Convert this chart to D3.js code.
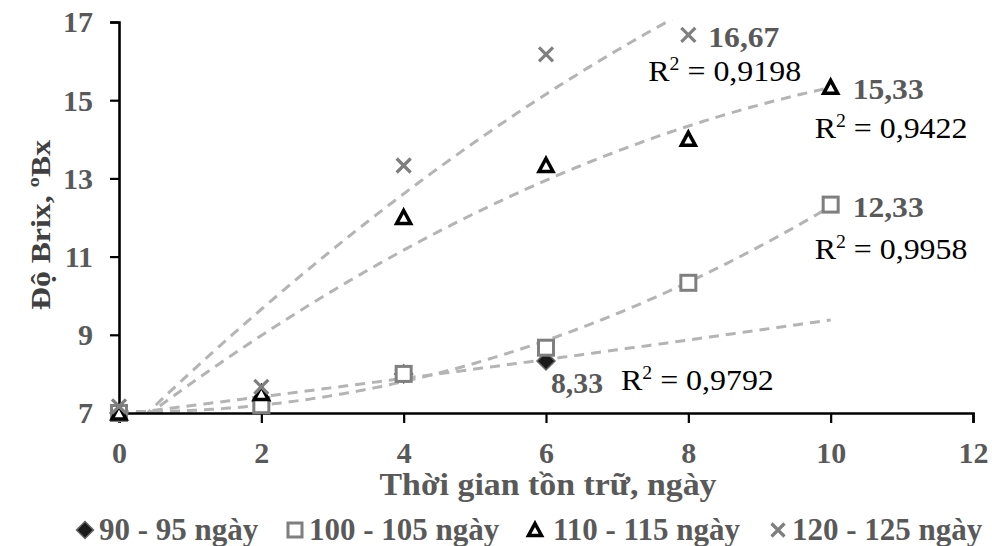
<!DOCTYPE html>
<html>
<head>
<meta charset="utf-8">
<script src="https://cdn.jsdelivr.net/npm/d3@7"></script>
<style>
  body { margin: 0; background: #fff; }
  text { font-family: "Liberation Serif", "Times New Roman", serif; }
</style>
</head>
<body>
<div id="main"></div>
<script>
const days = [0, 2, 4, 6, 8, 10];
const seriesNames = ['90 - 95 ngày', '100 - 105 ngày', '110 - 115 ngày', '120 - 125 ngày'];
const brix90 = [7, 7.3, 8, 8.33];
const brix100 = [7, 7.2, 8, 8.67, 10.33, 12.33];
const brix110 = [7, 7.5, 12, 13.33, 14, 15.33];
const brix120 = [7.17, 7.67, 13.33, 16.17, 16.67];
const endLabels = ['8,33', '12,33', '15,33', '16,67'];
const r2Labels = ['0,9792', '0,9958', '0,9422', '0,9198'];
const trendEnd = [10, 10, 10, 10];
const yTicks = [7, 9, 11, 13, 15, 17];
const xTicks = [0, 2, 4, 6, 8, 10, 12];

const width = 992, height = 546;
const margin = {left: 119, right: 19, top: 22, bottom: 133};

const svg = d3.select('#main').append('svg')
    .attr('width', width)
    .attr('height', height);

const x = d3.scaleLinear().domain([0, 12]).range([margin.left, width - margin.right]);
const y = d3.scaleLinear().domain([7, 17]).range([height - margin.bottom, margin.top]);

const series = [brix90, brix100, brix110, brix120].map((vals, i) => ({
  name: seriesNames[i],
  points: vals.map((v, j) => [days[j], v]),
  label: endLabels[i],
  r2: r2Labels[i],
  end: trendEnd[i],
}));

// least squares polynomial, order 2 (Excel style trendline)
function polyFit(pts) {
  let s = [0, 0, 0, 0, 0], t = [0, 0, 0];
  pts.forEach(([px, py]) => {
    for (let k = 0; k < 5; k++) s[k] += Math.pow(px, k);
    for (let k = 0; k < 3; k++) t[k] += py * Math.pow(px, k);
  });
  const A = [[s[0], s[1], s[2], t[0]], [s[1], s[2], s[3], t[1]], [s[2], s[3], s[4], t[2]]];
  for (let i = 0; i < 3; i++) {
    for (let j = i + 1; j < 3; j++) {
      const f = A[j][i] / A[i][i];
      for (let k = i; k < 4; k++) A[j][k] -= f * A[i][k];
    }
  }
  const c = [0, 0, 0];
  for (let i = 2; i >= 0; i--) {
    let sum = A[i][3];
    for (let k = i + 1; k < 3; k++) sum -= A[i][k] * c[k];
    c[i] = sum / A[i][i];
  }
  return xv => c[0] + c[1] * xv + c[2] * xv * xv;
}

// squeeze/stretch a text to a given width
function fitWidth(sel, w) {
  sel.attr('textLength', w).attr('lengthAdjust', 'spacingAndGlyphs');
}

svg.append('clipPath').attr('id', 'plot-clip')
  .append('rect')
    .attr('x', margin.left)
    .attr('y', margin.top - 2)
    .attr('width', width - margin.left - margin.right)
    .attr('height', height - margin.top - margin.bottom + 2);

// trendlines
const line = d3.line().x(d => x(d[0])).y(d => y(d[1]));
svg.append('g')
    .attr('clip-path', 'url(#plot-clip)')
  .selectAll('path')
  .data(series)
  .join('path')
    .attr('d', s => {
      const f = polyFit(s.points);
      return line(d3.range(0, s.end + 0.001, 0.05).map(v => [v, f(v)]));
    })
    .attr('fill', 'none')
    .attr('stroke', '#b4b4b4')
    .attr('stroke-width', 3)
    .attr('stroke-dasharray', '10,7');

// axes
const yAxis = svg.append('g')
    .attr('transform', `translate(${margin.left},0)`)
    .call(d3.axisLeft(y).tickValues(yTicks).tickSize(9).tickPadding(17));
const xAxis = svg.append('g')
    .attr('transform', `translate(0,${height - margin.bottom})`)
    .call(d3.axisBottom(x).tickValues(xTicks).tickSize(10).tickPadding(20));

[yAxis, xAxis].forEach(g => {
  g.select('.domain').attr('stroke', '#000').attr('stroke-width', 2.6);
  g.selectAll('.tick line').attr('stroke', '#000').attr('stroke-width', 2.2);
  g.selectAll('.tick text')
      .attr('fill', '#595959')
      .style('font-size', '30px')
      .style('font-weight', 'bold')
      .style('font-family', '"Liberation Serif", serif');
});
yAxis.selectAll('.tick text').attr('dy', '0.33em');
xAxis.selectAll('.tick text').attr('dy', '0.68em');

// markers
function drawMarker(g, i, size) {
  const h = size / 2;
  if (i === 0) {
    g.append('path')
        .attr('d', `M0,${-h}L${h},0L0,${h}L${-h},0Z`)
        .attr('fill', '#1a1a1a')
        .attr('stroke', '#666')
        .attr('stroke-width', 1.5);
  } else if (i === 1) {
    g.append('rect')
        .attr('x', -h + 1.5).attr('y', -h + 1.5)
        .attr('width', size - 3).attr('height', size - 3)
        .attr('fill', '#fff')
        .attr('stroke', '#7f7f7f')
        .attr('stroke-width', 3);
  } else if (i === 2) {
    g.append('path')
        .attr('d', `M0,${-h + 2}L${h - 2},${h - 3}L${-h + 2},${h - 3}Z`)
        .attr('fill', '#fff')
        .attr('stroke', '#000')
        .attr('stroke-width', 3.5)
        .attr('stroke-linejoin', 'miter');
  } else {
    g.append('path')
        .attr('d', `M${-h + 2},${-h + 2}L${h - 2},${h - 2}M${h - 2},${-h + 2}L${-h + 2},${h - 2}`)
        .attr('stroke', '#7f7f7f')
        .attr('stroke-width', 3.2);
  }
}

series.forEach((s, i) => {
  svg.append('g')
    .selectAll('g')
    .data(s.points)
    .join('g')
      .attr('transform', d => `translate(${x(d[0])},${y(d[1])})`)
      .each(function() { drawMarker(d3.select(this), i, 18); });
});

// value and R² labels, offsets from the last point of each series
const labelOffsets = [
  {vx: 5, vy: 32, rx: 75, ry: 29},
  {vx: 22, vy: 12, rx: -16, ry: 54},
  {vx: 22, vy: 12, rx: -16, ry: 51},
  {vx: 20, vy: 12, rx: -40, ry: 46},
];

series.forEach((s, i) => {
  const last = s.points[s.points.length - 1];
  const o = labelOffsets[i];
  const px = x(last[0]), py = y(last[1]);
  svg.append('text')
      .attr('x', px + o.vx)
      .attr('y', py + o.vy)
      .attr('fill', '#595959')
      .style('font-size', '29px')
      .style('font-weight', 'bold')
      .text(s.label)
      .call(fitWidth, s.label.length === 4 ? 52 : 71);
  const g = svg.append('g');
  const t = g.append('text')
      .attr('x', px + o.rx)
      .attr('y', py + o.ry)
      .attr('fill', '#000')
      .style('font-size', '29px');
  t.append('tspan').text('R');
  t.append('tspan').attr('dy', -11).style('font-size', '18px').text('2');
  t.append('tspan').attr('dy', 11).text(' = ' + s.r2);
  const bb = t.node().getBBox();
  g.insert('rect', 'text')
      .attr('x', bb.x).attr('y', bb.y + 4)
      .attr('width', bb.width + 10).attr('height', bb.height - 6)
      .attr('fill', '#fff');
  // stretch the number part a little like the reference
  t.attr('transform', `translate(${px + o.rx},0) scale(1.1,1) translate(${-(px + o.rx)},0)`);
  g.select('rect').attr('transform', t.attr('transform'));
});

// axis titles
svg.append('text')
    .attr('transform', `translate(50,225) rotate(-90)`)
    .attr('text-anchor', 'middle')
    .attr('fill', '#404040')
    .style('font-size', '28px')
    .style('font-weight', 'bold')
    .text('Độ Brix, ºBx')
    .call(fitWidth, 170);

svg.append('text')
    .attr('x', 548)
    .attr('y', 495)
    .attr('text-anchor', 'middle')
    .attr('fill', '#595959')
    .style('font-size', '31px')
    .style('font-weight', 'bold')
    .text('Thời gian tồn trữ, ngày')
    .call(fitWidth, 337);

// legend
const legendX = [85, 295, 535, 778];
const legend = svg.append('g')
  .selectAll('g')
  .data(series)
  .join('g')
    .attr('transform', (d, i) => `translate(${legendX[i]},530)`);
legend.each(function(d, i) { drawMarker(d3.select(this), i, 17); });
legend.append('text')
    .attr('x', (d, i) => i === 2 ? 18 : 14)
    .attr('y', 10)
    .attr('fill', '#595959')
    .style('font-size', '31px')
    .style('font-weight', 'bold')
    .text(d => d.name);
</script>
</body>
</html>
